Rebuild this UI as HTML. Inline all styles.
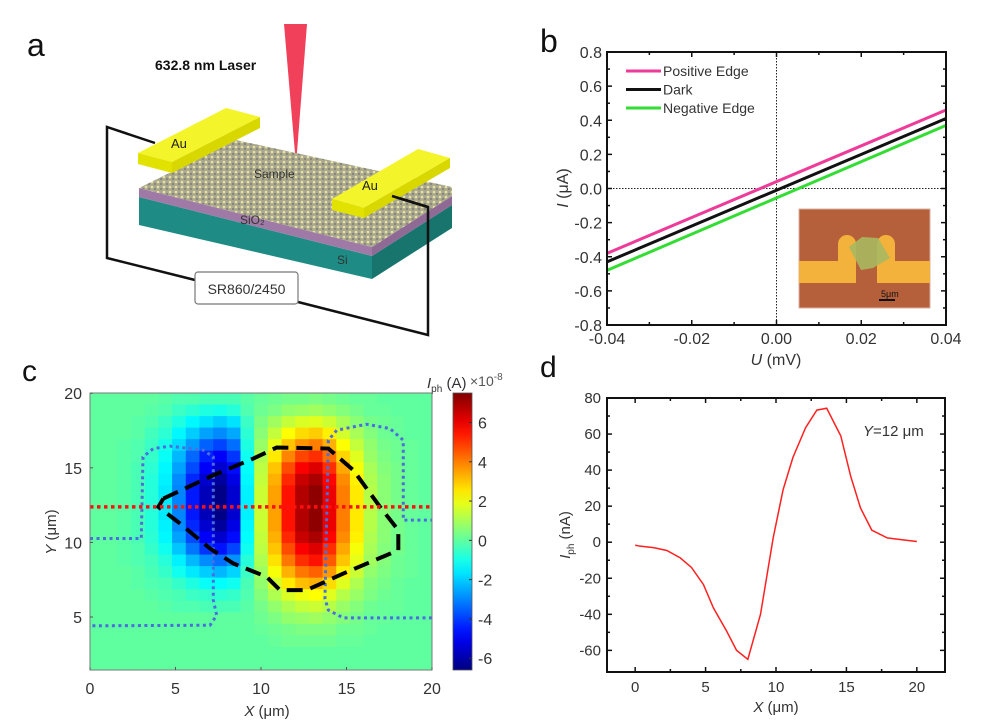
<!DOCTYPE html>
<html><head><meta charset="utf-8"><style>
html,body{margin:0;padding:0;background:#fff;}
svg{display:block;font-family:"Liberation Sans",Arial,sans-serif;}
</style></head><body>
<svg id="fig" width="1000" height="728" viewBox="0 0 1000 728" xmlns="http://www.w3.org/2000/svg">
<defs>
<pattern id="atoms" width="6" height="5" patternUnits="userSpaceOnUse">
<rect width="6" height="5" fill="#a9a88e"/><circle cx="2" cy="2" r="1.3" fill="#e8e2a0"/><circle cx="5" cy="4" r="0.9" fill="#6f6f6f"/>
</pattern>
<linearGradient id="cbgrad" x1="0" y1="1" x2="0" y2="0"></linearGradient>
</defs>

<!-- Panel a schematic -->
<g>
<text x="27" y="56" font-size="32" fill="#111">a</text>
<text x="155" y="70" font-size="14" font-weight="bold" fill="#111">632.8 nm Laser</text>
<polygon points="284,24 307,24 296,165" fill="#f0405a"/>
<circle cx="296" cy="164" r="2" fill="#d01020"/>
<!-- slab -->
<polygon points="139,197 372,256 372,279 139,225" fill="#1e8c84"/>
<polygon points="372,256 452,205 452,228 372,279" fill="#17756e"/>
<polygon points="139,188 372,247 372,256 139,197" fill="#a07aa6"/>
<polygon points="372,247 452,196 452,205 372,256" fill="#8e6a94"/>
<polygon points="139,188 236,140 452,187 452,196 372,247" fill="url(#atoms)"/>
<text x="254" y="178" font-size="12" fill="#333">Sample</text>
<text x="240" y="224" font-size="12" fill="#333">SiO₂</text>
<text x="337" y="264" font-size="12" fill="#333">Si</text>
<!-- wires -->
<polyline points="155,143 107,127 107,258 195,280" fill="none" stroke="#111" stroke-width="2.5"/>
<polyline points="298,302 428,335 428,207 392,196" fill="none" stroke="#111" stroke-width="2.5"/>
<!-- Au left -->
<polygon points="138,153 226,108 260,117 172,162" fill="#f4f42a"/>
<polygon points="138,153 172,162 172,173 138,164" fill="#e2e200"/>
<polygon points="172,162 260,117 260,128 172,173" fill="#d8d800"/>
<text x="171" y="148" font-size="13" fill="#222">Au</text>
<!-- Au right -->
<polygon points="332,199 418,149 450,158 364,208" fill="#f4f42a"/>
<polygon points="332,199 364,208 364,218 332,210" fill="#e2e200"/>
<polygon points="364,208 450,158 450,168 364,218" fill="#d8d800"/>
<text x="362" y="190" font-size="13" fill="#222">Au</text>
<line x1="392" y1="196" x2="428" y2="207" stroke="#111" stroke-width="2.5"/>
<rect x="195" y="272" width="103" height="32" rx="3" fill="#fff" stroke="#777" stroke-width="1.2"/>
<text x="246.5" y="294" font-size="14" fill="#333" text-anchor="middle">SR860/2450</text>
</g>

<g id="pb"></g>
<g id="pc"></g>
<g id="pd"></g>
</svg>
<script>
// ---------- Panel b data ----------
const bVoltage = [-0.04, 0.04];
const bPositive = [-0.38, 0.46];
const bDark = [-0.43, 0.41];
const bNegative = [-0.48, 0.37];
const bYTicks = [0.8, 0.6, 0.4, 0.2, 0.0, -0.2, -0.4, -0.6, -0.8];
const bXTicks = [-0.04, -0.02, 0.00, 0.02, 0.04];
const bLegend = ["Positive  Edge", "Dark", "Negative Edge"];

// ---------- Panel c data (units 1e-8 A), rows from Y top to bottom, 25 cols ----------
const cRows = [
"0 0 0 0 0 -.1 -.2 -.2 -.3 -.3 -.3 -.1 .1 .2 .3 .3 .4 .3 .2 .1 .1 0 0 0 0",
"0 0 0 0 -.1 -.2 -.5 -.7 -.9 -1 -.8 -.2 .2 .4 .7 .8 .9 .7 .5 .3 .1 .1 0 0 0",
"0 0 0 -.1 -.2 -.5 -.9 -1.4 -1.7 -2 -1.7 -.5 .4 .9 1.4 1.7 1.8 1.5 1 .6 .3 .2 .1 0 0",
"0 0 0 -.1 -.4 -.7 -1.4 -2 -2.6 -2.9 -2.5 -.7 .6 1.4 2.2 2.7 2.9 2.4 1.6 1 .5 .2 .1 0 0",
"0 0 -.1 -.2 -.5 -1 -1.8 -2.7 -3.5 -3.9 -3.3 -.9 .8 1.9 3 3.7 4 3.3 2.2 1.4 .7 .3 .2 .1 0",
"0 0 -.1 -.2 -.6 -1.2 -2.3 -3.4 -4.4 -4.9 -4.1 -1.1 1.1 2.5 3.9 4.8 5.1 4.2 2.8 1.8 .8 .4 .2 .1 0",
"0 0 -.1 -.3 -.7 -1.4 -2.6 -3.8 -4.9 -5.5 -4.7 -1.3 1.3 3 4.7 5.8 6.2 5.1 3.4 2.1 1 .5 .3 .1 0",
"0 0 -.1 -.3 -.8 -1.5 -2.9 -4.3 -5.5 -6.2 -5.2 -1.4 1.4 3.3 5.2 6.5 6.9 5.7 3.8 2.4 1.1 .6 .3 .1 0",
"0 0 -.1 -.3 -.8 -1.6 -3 -4.5 -5.8 -6.5 -5.5 -1.5 1.5 3.5 5.5 6.8 7.3 6 4 2.5 1.2 .6 .3 .1 0",
"0 0 -.1 -.3 -.8 -1.6 -3 -4.5 -5.8 -6.5 -5.5 -1.5 1.5 3.5 5.5 6.8 7.3 6 4 2.5 1.2 .6 .3 .1 0",
"0 0 -.1 -.3 -.8 -1.6 -3 -4.5 -5.8 -6.5 -5.5 -1.5 1.5 3.5 5.5 6.8 7.3 6 4 2.5 1.2 .6 .3 .1 0",
"0 0 -.1 -.3 -.8 -1.5 -2.9 -4.3 -5.5 -6.2 -5.2 -1.4 1.5 3.5 5.5 6.8 7.3 6 4 2.5 1.2 .6 .3 .1 0",
"0 0 -.1 -.3 -.7 -1.4 -2.6 -3.8 -4.9 -5.5 -4.7 -1.3 1.4 3.3 5.2 6.5 6.9 5.7 3.8 2.4 1.1 .6 .3 .1 0",
"0 0 -.1 -.2 -.6 -1.1 -2.1 -3.2 -4.1 -4.6 -3.9 -1.1 1.3 3 4.7 5.8 6.2 5.1 3.4 2.1 1 .5 .3 .1 0",
"0 0 -.1 -.2 -.4 -.8 -1.5 -2.3 -2.9 -3.3 -2.8 -.8 1.1 2.6 4.1 5.1 5.5 4.5 3 1.9 .9 .5 .2 .1 0",
"0 0 0 -.1 -.3 -.6 -1.1 -1.6 -2 -2.3 -1.9 -.5 .9 2.1 3.3 4.1 4.4 3.6 2.4 1.5 .7 .4 .2 .1 0",
"0 0 0 -.1 -.2 -.3 -.6 -.9 -1.2 -1.3 -1.1 -.3 .7 1.6 2.5 3.1 3.3 2.7 1.8 1.1 .5 .3 .1 0 0",
"0 0 0 0 -.1 -.2 -.3 -.5 -.6 -.7 -.6 -.2 .5 1.1 1.7 2 2.2 1.8 1.2 .8 .4 .2 .1 0 0",
"0 0 0 0 0 -.1 -.2 -.2 -.3 -.3 -.3 -.1 .3 .7 1.1 1.4 1.5 1.2 .8 .5 .2 .1 .1 0 0",
"0 0 0 0 0 0 0 0 0 0 0 0 .2 .4 .7 .8 .9 .7 .5 .3 .1 .1 0 0 0",
"0 0 0 0 0 0 0 0 0 0 0 0 .1 .2 .3 .4 .4 .4 .2 .2 .1 0 0 0 0",
"0 0 0 0 0 0 0 0 0 0 0 0 0 .1 .2 .2 .2 .2 .1 .1 0 0 0 0 0",
"0 0 0 0 0 0 0 0 0 0 0 0 0 0 0 0 0 0 0 0 0 0 0 0 0",
"0 0 0 0 0 0 0 0 0 0 0 0 0 0 0 0 0 0 0 0 0 0 0 0 0"
];
const cXTicks = [0, 5, 10, 15, 20];
const cYTicks = [5, 10, 15, 20];
const cBarTicks = [6, 4, 2, 0, -2, -4, -6];
const cLineY = 12.38;
const cFlakeX = [4.29,7.21,9.55,10.92,13.94,15.4,16.96,18.03,18.03,14.81,12.67,11.11,10.33,8.38,7.02,5.26,4.0,4.29];
const cFlakeY = [12.94,14.5,15.62,16.36,16.29,14.84,12.38,10.82,9.48,7.91,6.8,6.8,7.69,8.59,9.59,11.27,12.38,12.94];
const cLeftElX = [0,3.0,3.1,3.7,4.68,6.63,7.21,7.21,7.41,7.02,0];
const cLeftElY = [10.26,10.26,15.73,16.29,16.45,16.18,15.73,6.13,5.12,4.45,4.41];
const cRightElX = [20,14.81,13.94,13.74,13.94,14.43,16.18,17.54,18.32,18.32,20];
const cRightElY = [4.94,4.94,5.46,6.24,16.85,17.52,17.92,17.63,16.85,11.49,11.49];

// ---------- Panel d data ----------
const dX = [0,0.35,1.3,2.25,3.2,4.0,4.85,5.56,6.5,7.2,8.0,8.9,9.8,10.5,11.2,12.1,12.9,13.6,14.6,15.3,16.0,16.8,17.9,18.8,20];
const dI = [-1.7,-2.2,-3,-4.6,-8.7,-14,-23.5,-36.5,-49.4,-60,-65,-40,2.4,29,47,63.5,73.3,74.3,59,36.7,19,6.7,2.4,1.5,0.4];
const dXTicks = [0, 5, 10, 15, 20];
const dYTicks = [80, 60, 40, 20, 0, -20, -40, -60];

const NS = "http://www.w3.org/2000/svg";
function mk(parent, tag, attrs, text) {
  const e = document.createElementNS(NS, tag);
  for (const k in attrs) e.setAttribute(k, attrs[k]);
  if (text !== undefined) e.textContent = text;
  parent.appendChild(e);
  return e;
}
function jet(t) {
  t = Math.max(0, Math.min(1, t));
  const c = v => Math.round(255 * Math.max(0, Math.min(1, v)));
  return "rgb(" + c(1.5 - Math.abs(4 * t - 3)) + "," + c(1.5 - Math.abs(4 * t - 2)) + "," + c(1.5 - Math.abs(4 * t - 1)) + ")";
}

// ================= Panel b =================
(function () {
  const g = document.getElementById("pb");
  const L = 607, R = 946, T = 52, B = 325;
  const xs = u => L + (u + 0.04) / 0.08 * (R - L);
  const ys = i => T + (0.8 - i) / 1.6 * (B - T);
  let t = mk(g, "text", {x: 540, y: 52, "font-size": 32, fill: "#111"}, "b");
  
  
  // zero lines
  let z = mk(g, "line", {x1: xs(0), y1: T, x2: xs(0), y2: B, stroke: "#222", "stroke-width": 1, "stroke-dasharray": "1.5,1.5"});
  
  
  z = mk(g, "line", {x1: L, y1: ys(0), x2: R, y2: ys(0), stroke: "#222", "stroke-width": 1, "stroke-dasharray": "1.5,1.5"});
  
  
  // inset micrograph
  const ins = mk(g, "g", {});
  
  
  mk(ins, "rect", {x: 799, y: 209, width: 131, height: 99, fill: "#b5603a", stroke: "#d9b0a0", "stroke-width": 1});
  mk(ins, "path", {d: "M799,261 H838 V244 A9,9 0 0 1 856,244 V283 H799 Z", fill: "#f2b23c"});
  mk(ins, "path", {d: "M930,261 H895 V244 A9,9 0 0 0 877,244 V283 H930 Z", fill: "#f2b23c"});
  mk(ins, "polygon", {points: "849,247 862,237 878,238 890,258 873,268 861,270", fill: "#a8b860", opacity: 0.9});
  mk(ins, "text", {x: 881, y: 297, "font-size": 9, fill: "#111"}, "5μm");
  mk(ins, "rect", {x: 879, y: 299, width: 16, height: 2, fill: "#111"});
  // series
  const series = [[bPositive, "#ee3a98", "positive-edge-line"], [bDark, "#111", "dark-line"], [bNegative, "#33dd33", "negative-edge-line"]];
  series.forEach(s => {
    const l = mk(g, "line", {x1: xs(bVoltage[0]), y1: ys(s[0][0]), x2: xs(bVoltage[1]), y2: ys(s[0][1]), stroke: s[1], "stroke-width": 3});
    
    
  });
  // frame
  const fr = mk(g, "rect", {x: L, y: T, width: R - L, height: B - T, fill: "none", stroke: "#111", "stroke-width": 2});
  
  
  // ticks
  for (let k = 0; k <= 8; k++) {
    const u = -0.04 + k * 0.01, x = xs(u), len = k % 2 === 0 ? 5 : 3;
    mk(g, "line", {x1: x, y1: B, x2: x, y2: B - len, stroke: "#111", "stroke-width": 1.5});
    mk(g, "line", {x1: x, y1: T, x2: x, y2: T + len, stroke: "#111", "stroke-width": 1.5});
  }
  for (let k = 0; k <= 16; k++) {
    const i = -0.8 + k * 0.1, y = ys(i), len = k % 2 === 0 ? 5 : 3;
    mk(g, "line", {x1: L, y1: y, x2: L + len, y2: y, stroke: "#111", "stroke-width": 1.5});
    mk(g, "line", {x1: R, y1: y, x2: R - len, y2: y, stroke: "#111", "stroke-width": 1.5});
  }
  bYTicks.forEach(v => {
    const e = mk(g, "text", {x: 602, y: ys(v) + 6, "font-size": 16, fill: "#333", "text-anchor": "end"}, v.toFixed(1));
    
    
  });
  bXTicks.forEach(v => {
    const e = mk(g, "text", {x: xs(v), y: 344, "font-size": 16, fill: "#333", "text-anchor": "middle"}, v.toFixed(2));
    
    
  });
  let ax = mk(g, "text", {x: 776, y: 365, "font-size": 16, fill: "#333", "text-anchor": "middle"});
  
  
  ax.innerHTML = '<tspan font-style="italic">U</tspan> (mV)';
  ax = mk(g, "text", {x: 0, y: 0, "font-size": 16, fill: "#333", "text-anchor": "middle", transform: "translate(568,188) rotate(-90)"});
  
  
  ax.innerHTML = '<tspan font-style="italic">I</tspan> (μA)';
  // legend
  const lg = [["#ee3a98"], ["#111"], ["#33dd33"]];
  bLegend.forEach((name, k) => {
    const y = 71 + k * 18.5;
    const e = mk(g, "g", {});
    
    
    mk(e, "line", {x1: 626, y1: y, x2: 661, y2: y, stroke: lg[k][0], "stroke-width": 3});
    mk(e, "text", {x: 663, y: y + 5, "font-size": 14, fill: "#333"}, name);
  });
})();

// ================= Panel c =================
(function () {
  const g = document.getElementById("pc");
  const L = 90, R = 432, T = 393, B = 670;
  const xs = x => L + x / 20 * (R - L);
  const ys = y => 617 - (y - 5) * 14.92;
  const vmin = -6.6, vmax = 7.5;
  let t = mk(g, "text", {x: 22, y: 381, "font-size": 30, fill: "#111"}, "c");
  
  
  const nR = cRows.length, cw = (R - L) / 25, ch = (B - T) / nR;
  cRows.forEach((row, r) => {
    row.split(" ").map(Number).forEach((v, c) => {
      const cell = mk(g, "rect", {x: L + c * cw, y: T + r * ch, width: cw + 0.5, height: ch + 0.5, fill: jet((v - vmin) / (vmax - vmin))});
      
      
    });
  });
  const pts = (xa, ya) => xa.map((x, i) => xs(x) + "," + ys(ya[i])).join(" ");
  let p = mk(g, "polyline", {points: pts(cLeftElX, cLeftElY), fill: "none", stroke: "#4a6ee0", "stroke-width": 3, "stroke-dasharray": "3,3.5"});
  
  
  p = mk(g, "polyline", {points: pts(cRightElX, cRightElY), fill: "none", stroke: "#4a6ee0", "stroke-width": 3, "stroke-dasharray": "3,3.5"});
  
  
  p = mk(g, "polyline", {points: pts(cFlakeX, cFlakeY), fill: "none", stroke: "#000", "stroke-width": 4, "stroke-dasharray": "16,8"});
  
  
  p = mk(g, "line", {x1: xs(0), y1: ys(cLineY), x2: xs(20), y2: ys(cLineY), stroke: "#ff1010", "stroke-width": 3.5, "stroke-dasharray": "3.5,3.5"});
  
  
  const fr = mk(g, "rect", {x: L, y: T, width: R - L, height: B - T, fill: "none", stroke: "#777", "stroke-width": 1});
  
  
  cXTicks.forEach(v => {
    mk(g, "line", {x1: xs(v), y1: B, x2: xs(v), y2: B - 3, stroke: "#555"});
    const e = mk(g, "text", {x: xs(v), y: 694, "font-size": 16, fill: "#333", "text-anchor": "middle"}, String(v));
    
    
  });
  cYTicks.forEach(v => {
    mk(g, "line", {x1: L, y1: ys(v), x2: L + 3, y2: ys(v), stroke: "#555"});
    const e = mk(g, "text", {x: 82, y: ys(v) + 6, "font-size": 16, fill: "#333", "text-anchor": "end"}, String(v));
    
    
  });
  let ax = mk(g, "text", {x: 267, y: 716, "font-size": 15, fill: "#333", "text-anchor": "middle"});
  
  
  ax.innerHTML = '<tspan font-style="italic">X</tspan> (μm)';
  ax = mk(g, "text", {x: 0, y: 0, "font-size": 15, fill: "#333", "text-anchor": "middle", transform: "translate(56,532) rotate(-90)"});
  
  
  ax.innerHTML = '<tspan font-style="italic">Y</tspan> (μm)';
  // colorbar
  const grad = document.getElementById("cbgrad");
  for (let k = 0; k <= 20; k++) mk(grad, "stop", {offset: (k / 20), "stop-color": jet(k / 20)});
  const cbL = 453, cbR = 472;
  const cy = v => T + (vmax - v) / (vmax - vmin) * (B - T);
  const cb = mk(g, "rect", {x: cbL, y: T, width: cbR - cbL, height: B - T, fill: "url(#cbgrad)", stroke: "#555", "stroke-width": 0.8});
  
  
  cBarTicks.forEach(v => {
    mk(g, "line", {x1: cbR - 3, y1: cy(v), x2: cbR, y2: cy(v), stroke: "#333"});
    const e = mk(g, "text", {x: 478, y: cy(v) + 6, "font-size": 16, fill: "#333"}, String(v));
    
    
  });
  const ct = mk(g, "text", {x: 427, y: 388, "font-size": 15, fill: "#333"});
  
  
  ct.innerHTML = '<tspan font-style="italic">I</tspan><tspan font-size="10" dy="4">ph</tspan><tspan dy="-4"> (A)</tspan>';
  const ex = mk(g, "text", {x: 470, y: 386, "font-size": 14, fill: "#555"});
  
  
  ex.innerHTML = '×10<tspan font-size="10" dy="-6">-8</tspan>';
})();

// ================= Panel d =================
(function () {
  const g = document.getElementById("pd");
  const L = 607, R = 945, T = 398, B = 672;
  const xs = x => L + (x + 2) / 24 * (R - L);
  const ys = y => T + (80 - y) / 152 * (B - T);
  let t = mk(g, "text", {x: 540, y: 377, "font-size": 30, fill: "#111"}, "d");
  
  
  const ln = mk(g, "polyline", {points: dX.map((x, i) => xs(x) + "," + ys(dI[i])).join(" "), fill: "none", stroke: "#ff2020", "stroke-width": 1.5});
  
  
  const fr = mk(g, "rect", {x: L, y: T, width: R - L, height: B - T, fill: "none", stroke: "#111", "stroke-width": 2});
  
  
  for (let k = 0; k <= 8; k++) {
    const v = k * 2.5, x = xs(v), len = k % 2 === 0 ? 5 : 3;
    mk(g, "line", {x1: x, y1: B, x2: x, y2: B - len, stroke: "#111", "stroke-width": 1.5});
    mk(g, "line", {x1: x, y1: T, x2: x, y2: T + len, stroke: "#111", "stroke-width": 1.5});
  }
  for (let k = 0; k <= 14; k++) {
    const v = -60 + k * 10, y = ys(v), len = k % 2 === 0 ? 5 : 3;
    mk(g, "line", {x1: L, y1: y, x2: L + len, y2: y, stroke: "#111", "stroke-width": 1.5});
    mk(g, "line", {x1: R, y1: y, x2: R - len, y2: y, stroke: "#111", "stroke-width": 1.5});
  }
  dXTicks.forEach(v => {
    const e = mk(g, "text", {x: xs(v), y: 692, "font-size": 15, fill: "#333", "text-anchor": "middle"}, String(v));
    
    
  });
  dYTicks.forEach(v => {
    const e = mk(g, "text", {x: 601, y: ys(v) + 5, "font-size": 15, fill: "#333", "text-anchor": "end"}, String(v));
    
    
  });
  let ax = mk(g, "text", {x: 776, y: 712, "font-size": 15, fill: "#333", "text-anchor": "middle"});
  
  
  ax.innerHTML = '<tspan font-style="italic">X</tspan> (μm)';
  ax = mk(g, "text", {x: 0, y: 0, "font-size": 15, fill: "#333", "text-anchor": "middle", transform: "translate(570,535) rotate(-90)"});
  
  
  ax.innerHTML = '<tspan font-style="italic">I</tspan><tspan font-size="10" dy="4">ph</tspan><tspan dy="-4"> (nA)</tspan>';
  const an = mk(g, "text", {x: 863, y: 436, "font-size": 15, fill: "#333"});
  
  
  an.innerHTML = '<tspan font-style="italic">Y</tspan>=12 μm';
})();
</script>
</body></html>
